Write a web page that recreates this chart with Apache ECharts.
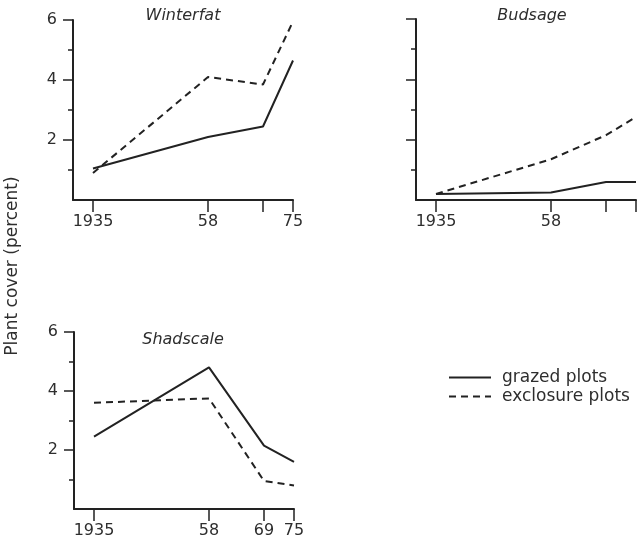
<!DOCTYPE html>
<html>
<head>
<meta charset="utf-8">
<script src="https://cdn.jsdelivr.net/npm/echarts@6/dist/echarts.min.js"></script>
<style>
  html, body { margin: 0; padding: 0; background: #fff; }
  #chart { width: 638px; height: 541px; }
</style>
</head>
<body>
<div id="chart"></div>
<script>
// years sampled, percent plant cover per species
var years = [1935, 1958, 1969, 1975];
var winterfatGrazed = [1.05, 2.1, 2.45, 4.65];
var winterfatExclosure = [0.9, 4.1, 3.85, 5.95];
var budsageGrazed = [0.2, 0.25, 0.6, 0.6];
var budsageExclosure = [0.2, 1.35, 2.15, 2.75];
var shadscaleGrazed = [2.45, 4.8, 2.15, 1.6];
var shadscaleExclosure = [3.6, 3.75, 0.95, 0.8];

var panelTitles = ['Winterfat', 'Budsage', 'Shadscale'];
var seriesNames = ['grazed plots', 'exclosure plots'];
var xTicks = [1935, 1958, 1969, 1975];
var winterfatXLabels = [1935, 1958, 1975];
var budsageXLabels = [1935, 1958];
var shadscaleXLabels = [1935, 1958, 1969, 1975];
var yLabels = [2, 4, 6];

var ink = '#222';
var textInk = '#2e2e2e';
var font = "'DejaVu Sans', sans-serif";

function pairs(vals) {
  return years.map(function (y, i) { return [y, vals[i]]; });
}

function xAxisFor(idx, labels) {
  return {
    type: 'value', gridIndex: idx, min: 1931, max: 1975,
    axisLine: { lineStyle: { color: ink, width: 2 } },
    axisTick: { customValues: xTicks, length: 12, lineStyle: { color: ink, width: 1.5 } },
    axisLabel: {
      customValues: labels, margin: 14, color: textInk, fontSize: 16, fontFamily: font,
      formatter: function (v) { return v === 1935 ? '1935' : String(v).slice(2); }
    },
    splitLine: { show: false }
  };
}

function yAxisFor(idx, labels) {
  return {
    type: 'value', gridIndex: idx, min: 0, max: 6, interval: 2,
    axisLine: { show: true, lineStyle: { color: ink, width: 2 } },
    axisTick: { customValues: [2, 4, 6], length: 10, lineStyle: { color: ink, width: 1.5 } },
    minorTick: { show: true, splitNumber: 2, length: 5, lineStyle: { color: ink, width: 1.5 } },
    axisLabel: { customValues: labels, margin: 16, color: textInk, fontSize: 16, fontFamily: font },
    splitLine: { show: false }, minorSplitLine: { show: false }
  };
}

function lineFor(idx, name, vals, dashed) {
  return {
    name: name, type: 'line', xAxisIndex: idx, yAxisIndex: idx,
    data: pairs(vals), symbol: 'none', silent: true,
    lineStyle: { color: ink, width: 2, type: dashed ? [7, 5] : 'solid' }
  };
}

var chart = echarts.init(document.getElementById('chart'));
var option = {
  animation: false,
  backgroundColor: '#fff',
  title: [
    { text: panelTitles[0], left: 183, top: 8, textAlign: 'center', padding: 0 },
    { text: panelTitles[1], left: 532, top: 8, textAlign: 'center', padding: 0 },
    { text: panelTitles[2], left: 183, top: 332, textAlign: 'center', padding: 0 }
  ].map(function (t) {
    t.textStyle = { fontStyle: 'italic', fontWeight: 'normal', fontSize: 16, color: textInk, fontFamily: font };
    return t;
  }),
  legend: {
    orient: 'vertical', left: 443, top: 364,
    itemWidth: 42, itemHeight: 14, itemGap: 2,
    itemStyle: { opacity: 0 },
    textStyle: { fontSize: 17, color: textInk, fontFamily: font, padding: [0, 0, 0, 6] },
    data: seriesNames
  },
  graphic: [{
    type: 'text', x: 13, y: 266, rotation: Math.PI / 2,
    style: { text: 'Plant cover (percent)', fill: textInk, fontSize: 17, fontFamily: font,
             textAlign: 'center', textVerticalAlign: 'middle' }
  }],
  grid: [
    { left: 73, top: 20, width: 220, height: 180 },
    { left: 416, top: 19, width: 220, height: 181 },
    { left: 74, top: 332, width: 220, height: 177 }
  ],
  xAxis: [xAxisFor(0, winterfatXLabels), xAxisFor(1, budsageXLabels), xAxisFor(2, shadscaleXLabels)],
  yAxis: [yAxisFor(0, yLabels), yAxisFor(1, []), yAxisFor(2, yLabels)],
  series: [
    lineFor(0, seriesNames[0], winterfatGrazed, false),
    lineFor(0, seriesNames[1], winterfatExclosure, true),
    lineFor(1, seriesNames[0], budsageGrazed, false),
    lineFor(1, seriesNames[1], budsageExclosure, true),
    lineFor(2, seriesNames[0], shadscaleGrazed, false),
    lineFor(2, seriesNames[1], shadscaleExclosure, true)
  ]
};
chart.setOption(option);
</script>
</body>
</html>
